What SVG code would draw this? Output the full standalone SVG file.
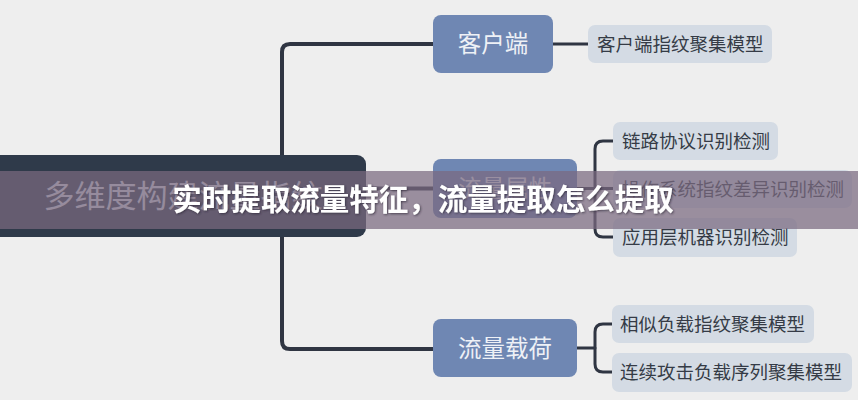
<svg xmlns="http://www.w3.org/2000/svg" width="858" height="400" viewBox="0 0 858 400">
  <defs>
    <style>
      .conn { fill: none; stroke: #2f3542; stroke-linecap: round; stroke-linejoin: round; }
      .main { stroke-width: 4; }
      .sub { stroke-width: 3; }
      .root { fill: #2f3a4a; }
      .mid { fill: #6f87b3; }
      .leaf { fill: #d4dbe4; }
      .t { font-family: "Noto Sans CJK SC", "Noto Sans", sans-serif; }
      .rt { fill: #dfe3e8; font-size: 31px; text-anchor: middle; }
      .mt { fill: #eef1f6; font-size: 23.5px; text-anchor: middle; }
      .lt { fill: #353b46; font-size: 18.5px; }
      .bt { fill: #ffffff; font-size: 29.5px; font-weight: 700; text-anchor: middle; }
    </style>
    <filter id="shadow" x="-5%" y="-30%" width="110%" height="160%">
      <feDropShadow dx="1" dy="1" stdDeviation="1" flood-color="#2a2030" flood-opacity="0.7"/>
    </filter>
  </defs>
  <rect x="0" y="0" width="858" height="400" fill="#eeeeee"/>

  <g id="connectors">
    <path class="conn main" d="M433 44 H290 Q282 44 282 52 V341 Q282 349 290 349 H433"/>
    <path class="conn main" d="M360 188.5 H433"/>
    <path class="conn sub" d="M553 44 H588"/>
    <path class="conn sub" d="M577 188.5 H613"/>
    <path class="conn sub" d="M613 141 H603 Q595 141 595 149 V229 Q595 237 603 237 H613"/>
    <path class="conn sub" d="M576 348 H595"/>
    <path class="conn sub" d="M612 324 H603 Q595 324 595 332 V364 Q595 372 603 372 H612"/>
  </g>

  <g id="root">
    <rect class="root" x="-8" y="155" width="374" height="82" rx="9"/>
    <text class="t rt" x="183" y="207">多维度构建流量指纹</text>
  </g>

  <g id="client">
    <rect class="mid" x="433" y="15" width="120" height="58" rx="8"/>
    <text class="t mt" x="493" y="52">客户端</text>
  </g>
  <g id="client-leaf">
    <rect class="leaf" x="588" y="25" width="184" height="38" rx="7"/>
    <text class="t lt" x="597" y="50.5">客户端指纹聚集模型</text>
  </g>

  <g id="attr">
    <rect class="mid" x="433" y="159" width="144" height="59" rx="8"/>
    <text class="t mt" x="505" y="197">流量属性</text>
  </g>
  <g id="attr-leaf-1">
    <rect class="leaf" x="613" y="122" width="165" height="38" rx="7"/>
    <text class="t lt" x="622" y="147.5">链路协议识别检测</text>
  </g>
  <g id="attr-leaf-2">
    <rect class="leaf" x="613" y="170" width="239" height="38" rx="7"/>
    <text class="t lt" x="622" y="195.5">操作系统指纹差异识别检测</text>
  </g>
  <g id="attr-leaf-3">
    <rect class="leaf" x="613" y="218" width="184" height="39" rx="7"/>
    <text class="t lt" x="622" y="244">应用层机器识别检测</text>
  </g>

  <g id="payload">
    <rect class="mid" x="433" y="319" width="144" height="58" rx="8"/>
    <text class="t mt" x="505" y="356.5">流量载荷</text>
  </g>
  <g id="payload-leaf-1">
    <rect class="leaf" x="612" y="305" width="202" height="38" rx="7"/>
    <text class="t lt" x="620" y="330.5">相似负载指纹聚集模型</text>
  </g>
  <g id="payload-leaf-2">
    <rect class="leaf" x="612" y="353" width="240" height="39" rx="7"/>
    <text class="t lt" x="620" y="379">连续攻击负载序列聚集模型</text>
  </g>

  <g id="banner">
    <rect x="0" y="171" width="858" height="58" fill="#7a6980" fill-opacity="0.72"/>
    <text class="t bt" x="423" y="210" filter="url(#shadow)">实时提取流量特征，流量提取怎么提取</text>
  </g>
</svg>
